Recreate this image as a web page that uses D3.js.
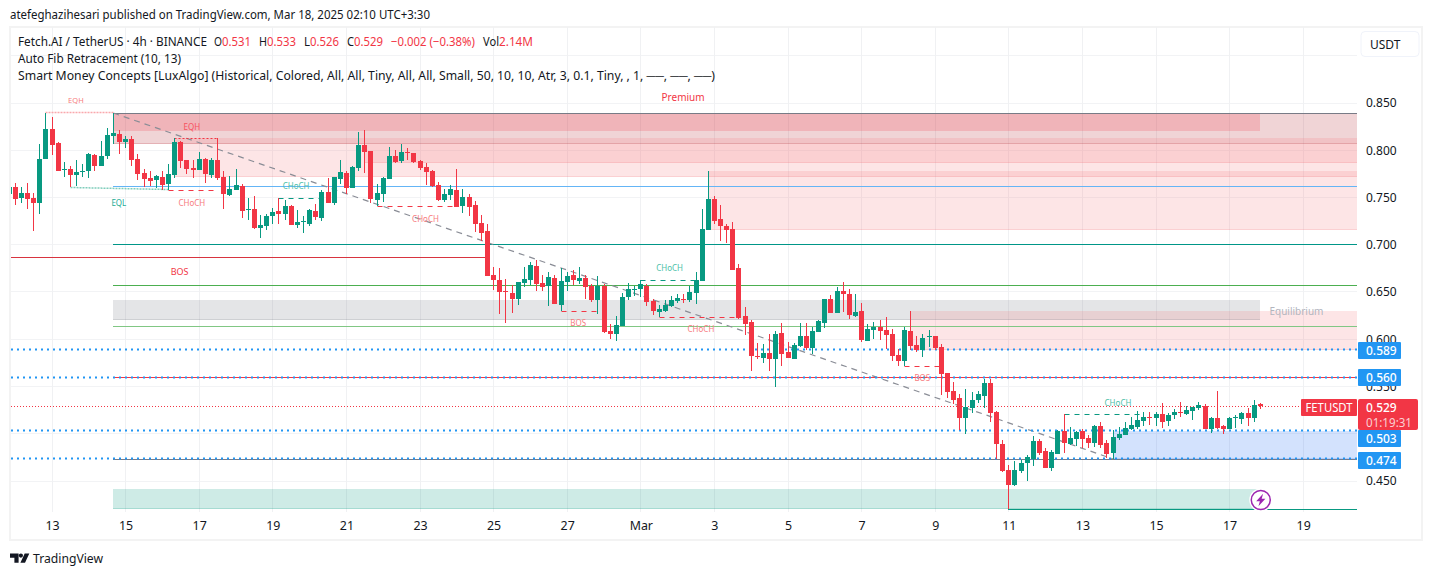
<!DOCTYPE html>
<html><head><meta charset="utf-8">
<script src="https://cdnjs.cloudflare.com/ajax/libs/d3/7.9.0/d3.min.js"></script>
<style>
html,body{margin:0;padding:0;background:#fff}
svg{display:block}
text{font-family:"Noto Sans",sans-serif;fill:#131722}
.axis path,.axis line{display:none}
</style></head><body><svg id="c" width="1433" height="576"></svg>
<script>
const opens=[.7537,
.7608,.7494,.7547,.7494,.7441,.7907,.8225,.8077,.7794,.7801,
.7738,.7773,.7780,.7950,.7833,.7939,.8151,.8172,.8087,.8119,
.7907,.7759,.7706,.7685,.7717,.7643,.7738,.8087,.7897,.7812,
.7791,.7907,.7738,.7897,.7717,.7526,.7579,.7622,.7371,.7378,
.7177,.7198,.7304,.7357,.7325,.7410,.7209,.7237,.7220,.7357,
.7283,.7558,.7442,.7696,.7759,.7601,.7812,.8056,.7992,.7474,
.7537,.7696,.7939,.7886,.7982,.7971,.7886,.7823,.7780,.7632,
.7474,.7527,.7579,.7410,.7505,.7421,.7230,.7146,.6680,.6627,
.6511,.6490,.6426,.6595,.6627,.6775,.6595,.6564,.6648,.6363,
.6606,.6680,.6617,.6648,.6564,.6415,.6564,.6088,.6056,.6140,
.6447,.6521,.6532,.6564,.6405,.6289,.6299,.6352,.6405,.6426,
.6415,.6490,.6617,.7156,.7484,.7273,.7199,.7167,.6754,.6246,
.6183,.5823,.5802,.5855,.5791,.6066,.5865,.5791,.5929,.6035,
.5908,.6077,.6172,.6426,.6278,.6511,.6479,.6246,.6299,.5982,
.6098,.6130,.6098,.6056,.5834,.5770,.6088,.5939,.5886,.6024,
.6035,.5918,.5643,.5453,.5379,.5167,.5273,.5357,.5400,.5537,
.5230,.4892,.4617,.4458,.4606,.4691,.4733,.4924,.4818,.4638,
.4786,.5030,.4892,.4945,.5030,.4955,.4903,.5082,.4903,.4797,
.4955,.4987,.5051,.5072,.5135,.5178,.5167,.5209,.5135,.5199,
.5231,.5209,.5241,.5273,.5294,.5051,.5167,.5082,.5051,.5167,
.5156,.5220,.5167,.531];
const closes=[.7608,
.7484,.7547,.7484,.7441,.7907,.8225,.8056,.7780,.7801,.7738,
.7770,.7780,.7960,.7833,.7939,.8161,.8183,.8087,.8119,.7897,
.7748,.7696,.7674,.7727,.7632,.7748,.8087,.7886,.7801,.7791,
.7907,.7748,.7897,.7706,.7537,.7590,.7632,.7357,.7378,.7177,
.7209,.7304,.7347,.7325,.7410,.7209,.7241,.7248,.7368,.7294,
.7558,.7442,.7717,.7770,.7601,.7823,.8056,.7982,.7484,.7548,
.7706,.7939,.7876,.7982,.7974,.7876,.7812,.7770,.7622,.7474,
.7537,.7590,.7400,.7505,.7400,.7220,.7124,.6669,.6627,.6500,
.6500,.6426,.6606,.6638,.6786,.6585,.6553,.6659,.6373,.6617,
.6669,.6627,.6648,.6553,.6415,.6564,.6077,.6056,.6151,.6447,
.6532,.6532,.6585,.6394,.6299,.6320,.6363,.6415,.6437,.6415,
.6500,.6627,.7167,.7484,.7252,.7199,.7156,.6733,.6225,.6162,
.5823,.5812,.5855,.5791,.6056,.5844,.5802,.5939,.6035,.5908,
.6088,.6193,.6426,.6278,.6511,.6479,.6257,.6289,.5992,.6109,
.6130,.6088,.6045,.5823,.5770,.6098,.5929,.5886,.6013,.6035,
.5908,.5632,.5442,.5357,.5167,.5283,.5357,.5421,.5537,.5220,
.4892,.4606,.4458,.4617,.4691,.4754,.4924,.4797,.4638,.4807,
.5030,.4903,.4955,.5019,.4945,.4903,.5082,.4881,.4786,.4966,
.4998,.5061,.5093,.5146,.5178,.5171,.5209,.5125,.5199,.5231,
.5220,.5252,.5283,.5305,.5051,.5167,.5061,.5051,.5167,.5178,
.5220,.5167,.5305,.529];
const highs=[.7608,
.7650,.7608,.7650,.7544,.8066,.8394,.8352,.8087,.7876,.7833,
.7897,.7854,.7971,.7960,.8098,.8236,.8398,.8214,.8151,.8151,
.7960,.7801,.7780,.7738,.7780,.7854,.8130,.8098,.7897,.7897,
.7981,.7918,.7918,.8130,.7780,.7727,.7801,.7643,.7498,.7516,
.7315,.7325,.7389,.7495,.7474,.7421,.7368,.7304,.7378,.7431,
.7579,.7706,.7720,.7897,.7780,.7833,.8193,.8214,.7992,.7643,
.7717,.8034,.8003,.8066,.8024,.7971,.7897,.7862,.7791,.7664,
.7590,.7632,.7802,.7590,.7537,.7463,.7315,.7220,.6765,.6754,
.6638,.6574,.6606,.6765,.6818,.6839,.6680,.6712,.6680,.6754,
.6712,.6733,.6765,.6680,.6585,.6669,.6585,.6162,.6246,.6490,
.6595,.6564,.6624,.6585,.6426,.6363,.6415,.6458,.6479,.6479,
.6564,.6712,.7378,.7781,.7516,.7421,.7220,.7241,.6797,.6341,
.6204,.5960,.5950,.6056,.6088,.6172,.5971,.5960,.6172,.6172,
.6130,.6204,.6426,.6468,.6553,.6606,.6532,.6479,.6384,.6162,
.6183,.6204,.6236,.6109,.5897,.6130,.6299,.6035,.6056,.6098,
.6035,.5950,.5643,.5548,.5421,.5474,.5442,.5453,.5580,.5580,
.5241,.4934,.4670,.4712,.4722,.4775,.4976,.4945,.4850,.4828,
.5040,.5209,.5072,.5030,.5051,.4987,.5093,.5125,.4934,.5040,
.5072,.5125,.5178,.5241,.5231,.5231,.5231,.5326,.5220,.5262,
.5336,.5294,.5283,.5336,.5315,.5178,.5453,.5093,.5178,.5199,
.5231,.5273,.5357,.533];
const lows=[.7537,
.7420,.7441,.7378,.7145,.7325,.7907,.7950,.7780,.7717,.7608,
.7622,.7717,.7706,.7780,.7833,.7907,.8066,.7960,.8024,.7833,
.7685,.7611,.7622,.7600,.7579,.7579,.7706,.7812,.7748,.7706,
.7791,.7653,.7706,.7685,.7378,.7515,.7579,.7282,.7262,.7167,
.7071,.7156,.7220,.7220,.7262,.7209,.7177,.7124,.7198,.7262,
.7251,.7442,.7421,.7643,.7537,.7601,.7780,.7759,.7442,.7410,
.7452,.7696,.7865,.7865,.7897,.7865,.7791,.7632,.7611,.7463,
.7452,.7474,.7400,.7336,.7304,.7135,.7040,.6669,.6521,.6267,
.6172,.6278,.6363,.6553,.6574,.6511,.6511,.6352,.6373,.6299,
.6511,.6574,.6585,.6426,.6394,.6267,.6066,.6003,.5982,.6140,
.6415,.6458,.6447,.6352,.6257,.6232,.6289,.6341,.6384,.6384,
.6394,.6373,.6617,.7156,.7220,.7040,.7019,.6733,.6214,.6045,
.5664,.5791,.5749,.5664,.5495,.5717,.5802,.5791,.5918,.5886,
.5844,.6077,.6119,.6278,.6278,.6289,.6214,.6236,.5971,.5982,
.6003,.5992,.5897,.5770,.5717,.5714,.5886,.5865,.5812,.5918,
.5886,.5410,.5379,.5315,.5040,.4998,.5220,.5326,.5273,.5125,
.4733,.4595,.4200,.4447,.4585,.4500,.4659,.4776,.4638,.4606,
.4786,.4797,.4881,.4871,.4850,.4850,.4860,.4850,.4744,.4733,
.4934,.4987,.5040,.5051,.5082,.5093,.5082,.5061,.5082,.5156,
.5178,.5199,.5146,.5252,.5051,.5008,.5051,.4998,.5051,.5061,
.5104,.5082,.5125,.526];
const tickBars=[7,19,31,43,55,67,79,91,103,115,127,139,151,163,175,187,199,211];
const tickLabels=["13","15","17","19","21","23","25","27","Mar","3","5","7","9","11","13","15","17","19"];
const priceTicks=[.45,.55,.60,.65,.70,.75,.80,.85];
const gridPrices=[.45,.50,.55,.60,.65,.70,.75,.80,.85,.90];
// zones: bar start, bar end (null = to right edge), top price, bottom price, fill
const zoneBarsStart=[17,27,58,114,17,147,180,17];
const zoneBarsEnd=[null,null,null,null,204,null,null,204];
const zoneTop=[.8394,.8127,.8069,.7777,.6415,.6299,.5029,.4416];
const zoneBottom=[.8069,.7720,.7870,.7159,.6203,.5886,.4733,.4204];
const zoneFill=["rgba(178,40,51,.2)","rgba(247,124,128,.2)","rgba(247,124,128,.2)","rgba(247,124,128,.2)","rgba(120,123,134,.2)","rgba(247,124,128,.2)","rgba(33,110,243,.2)","rgba(8,153,129,.2)"];
const premiumZone={start:17,end:204,top:.8394,bottom:.8204,fill:"rgba(242,54,69,.2)"};
// fib / level lines
const levelPrices=[.8394,.7619,.7003,.6567,.6137,.5597,.4729];
const levelColors=["#787b86","#64b5f6","#009688","#4caf50","#81c784","#f23645","#787b86"];
const levelStart=17;
const bosLevel={price:.6867,end:78,color:"#d8343f"};
const lowLine={price:.4200,start:163,color:"#089981"};
const srPrices=[.589,.560,.503,.474];
const srTagCenters=[.589,.5597,.4955,.4722];
const lastPrice=.529;
// structure segments: start, end, from price, to price, colour, dash, width
const segStart=[6,27,10,26,44,60,90,103,106,146,172];
const segEnd=[17,34,26,34,51,73,96,112,119,152,185];
const segP0=[.8397,.8127,.7608,.7576,.7491,.7407,.6296,.6624,.6233,.5714,.5206];
const segP1=[.8397,.8127,.7580,.7576,.7491,.7407,.6296,.6624,.6233,.5714,.5206];
const segColor=["#f9a8ad","#f23645","#7fcdbb","#f23645","#089981","#f23645","#f23645","#089981","#f23645","#f23645","#089981"];
const segDash=["2,1","2,2","2,1","5,5","5,5","5,5","5,5","5,5","5,5","5,5","5,5"];
const segWidth=[1.5,1.2,1.5,1,1,1,1,1,1,1,1];
// smc labels
const lblText=["EQH","EQH","EQL","CHoCH","CHoCH","CHoCH","BOS","CHoCH","BOS","CHoCH","BOS","CHoCH","Premium","Equilibrium"];
const lblBar=[10.9,29.8,17.9,29.8,46.8,67.9,27.8,107.7,92.8,112.8,148.9,180.8,109.9,209.9];
const lblPrice=[.8537,.8251,.7447,.7447,.7632,.7278,.6712,.6754,.6177,.6109,.5595,.5331,.8564,.6299];
const lblColor=["#f77c80","#f7525f","#22ab94","#f77c80","#4dbfa9","#f77c80","#f23645","#4dbfa9","#f77c80","#f77c80","#f77c80","#4dbfa9","#f23645","#b2b5be"];
const lblSize=[7.5,8,8,8,8,8,9,8,8,8,8,8,10,10];

const UP="#089981",DOWN="#f23645";
const L=11,R=1357,T=27,B=512;
const x=d3.scaleLinear().domain([1,211]).range([15.2,1303.2]);
const y=d3.scaleLinear().domain([.85,.45]).range([103,481]);
const X=k=>Math.floor(x(k));
const svg=d3.select("#c");
const fit=(s,w)=>s.attr("textLength",w).attr("lengthAdjust","spacingAndGlyphs");

// frame
svg.append("rect").attr("x",10).attr("y",27).attr("width",1412).attr("height",513).attr("fill","#fff").attr("stroke","#f3f3f3").attr("stroke-width",2);

// page header
svg.append("text").attr("x",10).attr("y",19).attr("font-size",12.4).call(fit,420).text("atefeghazihesari published on TradingView.com, Mar 18, 2025 02:10 UTC+3:30");

// grid
const g=svg.append("g");
const defs=svg.append("defs");
defs.append("clipPath").attr("id","plot").append("rect").attr("x",L).attr("y",T).attr("width",R-L).attr("height",B-T);
g.selectAll(".gh").data(gridPrices).join("rect").attr("x",L).attr("width",R-L).attr("height",1)
 .attr("y",d=>Math.floor(y(d))).attr("fill","#f2f3f5");
g.selectAll(".gv").data(tickBars).join("rect").attr("y",T).attr("height",B-T).attr("width",1)
 .attr("x",d=>X(d)).attr("fill","#f0f1f3");

const plot=svg.append("g").attr("clip-path","url(#plot)");

// zones
const zones=zoneBarsStart.map((s,i)=>({s,e:zoneBarsEnd[i],t:zoneTop[i],b:zoneBottom[i],f:zoneFill[i]}));
plot.selectAll(".z").data(zones).join("rect")
 .attr("x",d=>X(d.s)).attr("width",d=>(d.e===null?R:X(d.e))-X(d.s))
 .attr("y",d=>Math.round(y(d.t))).attr("height",d=>Math.round(y(d.b))-Math.round(y(d.t)))
 .attr("fill",d=>d.f);
// zone bottom borders
plot.selectAll(".zb").data(zones).join("rect")
 .attr("x",d=>X(d.s)).attr("width",d=>(d.e===null?R:X(d.e))-X(d.s))
 .attr("y",d=>Math.round(y(d.b))-1).attr("height",1).attr("fill",d=>d.f);
plot.append("rect").attr("x",X(premiumZone.start)).attr("width",X(premiumZone.end)-X(premiumZone.start))
 .attr("y",Math.round(y(premiumZone.top))).attr("height",Math.round(y(premiumZone.bottom))-Math.round(y(premiumZone.top)))
 .attr("fill",premiumZone.fill);

// levels
plot.selectAll(".lv").data(levelPrices).join("rect")
 .attr("x",X(levelStart)).attr("width",R-X(levelStart)).attr("height",1)
 .attr("y",d=>Math.floor(y(d))).attr("fill",(d,i)=>levelColors[i]);
plot.append("rect").attr("x",L).attr("width",X(bosLevel.end)-L).attr("height",1)
 .attr("y",Math.floor(y(bosLevel.price))).attr("fill",bosLevel.color);
plot.append("rect").attr("x",X(lowLine.start)).attr("width",R-X(lowLine.start)).attr("height",1)
 .attr("y",Math.floor(y(lowLine.price))).attr("fill",lowLine.color);

// diagonal
plot.append("line").attr("x1",x(17)).attr("y1",y(.8394)).attr("x2",x(180)).attr("y2",y(.4733))
 .attr("stroke","#8a8d96").attr("stroke-width",1.2).attr("stroke-dasharray","6,5");

// support/resistance dotted lines
plot.selectAll(".sr").data(srPrices).join("line")
 .attr("x1",L).attr("x2",R).attr("y1",d=>Math.floor(y(d))+.5).attr("y2",d=>Math.floor(y(d))+.5)
 .attr("stroke","#2196f3").attr("stroke-width",2).attr("stroke-dasharray","2,4");
plot.append("line").attr("x1",L).attr("x2",1301).attr("y1",Math.floor(y(lastPrice))+.5).attr("y2",Math.floor(y(lastPrice))+.5)
 .attr("stroke",DOWN).attr("stroke-dasharray","1,2");

// structure segments
plot.selectAll(".seg").data(segStart).join("line")
 .attr("x1",d=>X(d)+.5).attr("x2",(d,i)=>X(segEnd[i])+.5)
 .attr("y1",(d,i)=>Math.floor(y(segP0[i]))+.5).attr("y2",(d,i)=>Math.floor(y(segP1[i]))+.5)
 .attr("stroke",(d,i)=>segColor[i]).attr("stroke-width",(d,i)=>segWidth[i]).attr("stroke-dasharray",(d,i)=>segDash[i]);

// candles
const bars=opens.map((o,i)=>({k:i,o,c:closes[i],h:highs[i],l:lows[i],col:closes[i]>=o?UP:DOWN}));
plot.selectAll(".w").data(bars).join("rect")
 .attr("x",d=>X(d.k)).attr("width",1)
 .attr("y",d=>Math.round(y(d.h))).attr("height",d=>Math.max(1,Math.round(y(d.l))-Math.round(y(d.h))))
 .attr("fill",d=>d.col);
plot.selectAll(".b").data(bars).join("rect")
 .attr("x",d=>X(d.k)-2).attr("width",5)
 .attr("y",d=>Math.round(y(Math.max(d.o,d.c)))).attr("height",d=>Math.max(1,Math.round(y(Math.min(d.o,d.c)))-Math.round(y(Math.max(d.o,d.c)))))
 .attr("fill",d=>d.col);

// smc labels
plot.selectAll(".lb").data(lblText).join("text")
 .attr("x",(d,i)=>x(lblBar[i])).attr("y",(d,i)=>y(lblPrice[i])).attr("text-anchor","middle").attr("dominant-baseline","central")
 .style("fill",(d,i)=>lblColor[i]).attr("font-size",(d,i)=>lblSize[i]).text(d=>d);

// legend
const lg=svg.append("g");
const RED="#f23645";
const leg1=[["Fetch.AI / TetherUS · 4h · BINANCE",18,null,189],["O",214,null,8],["0.531",222,RED,29],["H",259,null,8],["0.533",267,RED,29],["L",304,null,6],["0.526",310,RED,29],["C",347,null,7],["0.529",354,RED,29],["−0.002 (−0.38%)",391,RED,84],["Vol",483,null,16],["2.14M",499,RED,34]];
lg.selectAll(".l1").data(leg1).join("text").attr("x",d=>d[1]).attr("y",46).attr("font-size",12.2)
 .attr("textLength",d=>d[3]).attr("lengthAdjust","spacingAndGlyphs")
 .style("fill",d=>d[2]||"#131722").text(d=>d[0]);
lg.append("text").attr("x",18).attr("y",63).attr("font-size",12.2).call(fit,163).text("Auto Fib Retracement (10, 13)");
lg.append("text").attr("x",18).attr("y",80).attr("font-size",12.2).call(fit,697).text("Smart Money Concepts [LuxAlgo] (Historical, Colored, All, All, Tiny, All, All, Small, 50, 10, 10, Atr, 3, 0.1, Tiny, , 1, ──, ──, ──)");

// USDT button
svg.append("rect").attr("x",1361).attr("y",31.5).attr("width",58).attr("height",25).attr("rx",4).attr("fill","#fff").attr("stroke","#f0f3fa");
svg.append("text").attr("x",1370).attr("y",49).attr("font-size",12).text("USDT");

// axes
const xAxis=d3.axisBottom(x).tickValues(tickBars).tickFormat((d,i)=>tickLabels[i]).tickSize(0).tickPadding(0);
svg.append("g").attr("class","axis").attr("transform","translate(0,521)").call(xAxis)
 .call(s=>s.selectAll("text").attr("font-size",12.4).attr("font-family",'"Noto Sans",sans-serif').style("fill","#131722").attr("dy",".71em"));
const yAxis=d3.axisRight(y).tickValues(priceTicks).tickFormat(d3.format(".3f")).tickSize(0).tickPadding(0);
svg.append("g").attr("class","axis").attr("transform","translate(1366,0)").call(yAxis)
 .call(s=>s.selectAll("text").attr("font-size",12).attr("font-family",'"Noto Sans",sans-serif').style("fill","#131722"));

// blue tags
srPrices.forEach((p,i)=>{
  const cy=y(srTagCenters[i]);
  svg.append("rect").attr("x",1358).attr("width",43).attr("y",Math.round(cy-8)).attr("height",17).attr("rx",1).attr("fill","#2196f3");
  svg.append("text").attr("x",1366).attr("y",cy+.5).attr("dominant-baseline","central").attr("font-size",12).attr("font-weight",500).style("fill","#fff").text(d3.format(".3f")(p));
});

// last price tag
const ly=Math.floor(y(lastPrice));
svg.append("rect").attr("x",1301).attr("y",ly-7).attr("width",56).attr("height",17).attr("rx",1).attr("fill",RED);
svg.append("text").attr("x",1305.5).attr("y",ly+1.5).attr("dominant-baseline","central").attr("font-size",12).call(fit,47).style("fill","#fff").text("FETUSDT");
svg.append("rect").attr("x",1358).attr("y",ly-7).attr("width",60).attr("height",31).attr("rx",2).attr("fill",RED);
svg.append("text").attr("x",1366).attr("y",ly+1.5).attr("dominant-baseline","central").attr("font-size",12).attr("font-weight",500).style("fill","#fff").text(d3.format(".3f")(lastPrice));
svg.append("text").attr("x",1366).attr("y",ly+16).attr("dominant-baseline","central").attr("font-size",12).call(fit,46).style("fill","#fbd0d4").text("01:19:31");

// lightning badge
const bx=x(204)+.5,by=y(.4299);
svg.append("circle").attr("cx",bx).attr("cy",by).attr("r",11.5).attr("fill","#fff");
svg.append("circle").attr("cx",bx).attr("cy",by).attr("r",9.5).attr("fill","#fff").attr("stroke","#9c27b0").attr("stroke-width",1.5);
svg.append("path").attr("transform",`translate(${bx},${by}) scale(1.15)`).attr("d","M2,-5.5 L-4,1 L-0.8,1 L-2,5.5 L4,-1 L0.8,-1 Z").attr("fill","#9c27b0");

// logo
const logo=svg.append("g").attr("fill","#131722");
logo.append("path").attr("d","M10 553.5h8.6v9.2h-4.2v-5h-4.4z");
logo.append("circle").attr("cx",20.9).attr("cy",555.6).attr("r",2.1);
logo.append("path").attr("d","M29.3 553.5L25 562.7h-4.6L24.7 553.5z");
svg.append("text").attr("x",33).attr("y",563).attr("font-size",13.2).call(fit,70).text("TradingView");
</script></body></html>
